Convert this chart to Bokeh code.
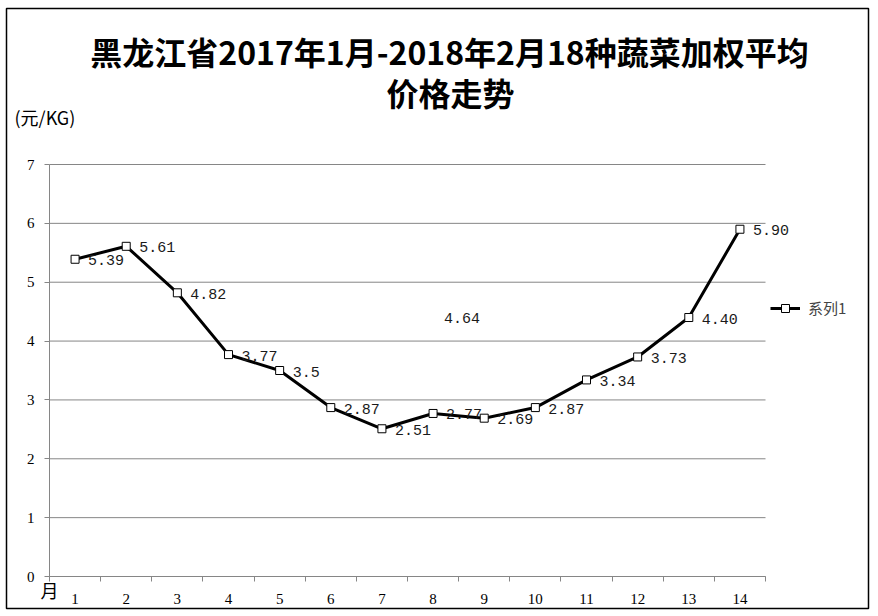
from bokeh.plotting import figure
from bokeh.models import FixedTicker, Legend, LegendItem, ColumnDataSource, Range1d, Label
from bokeh.core.properties import value
from bokeh.embed import file_html
from bokeh.resources import INLINE

months = list(range(1, 15))
tick_labels = [str(m) for m in months]
prices = [5.39, 5.61, 4.82, 3.77, 3.5, 2.87, 2.51, 2.77, 2.69, 2.87, 3.34, 3.73, 4.40, 5.90]
price_labels = ["5.39", "5.61", "4.82", "3.77", "3.5", "2.87", "2.51", "2.77", "2.69", "2.87",
                "3.34", "3.73", "4.40", "5.90"]
stray_x = [8]
stray_y = [4.35]
stray_text = ["4.64"]
y_ticks = list(range(0, 8))
title_lines = ["黑龙江省2017年1月-2018年2月18种蔬菜加权平均", "价格走势"]
unit_text = "(元/KG)"
x_unit_text = "月"
series_name = "系列1"

GRAY = "#868686"

# pixel geometry of the chart box (frame = whole bordered box)
FX0, FY0, FW, FH = 6, 8, 862, 600
AX_L, AX_R, AX_T, AX_B = 49, 765, 164, 576   # plot area in page pixels
x_lo, x_hi = months[0] - 0.5, months[-1] + 0.5
y_lo, y_hi = y_ticks[0], y_ticks[-1]
xs = (AX_R - AX_L) / (x_hi - x_lo)
ys = (AX_B - AX_T) / (y_hi - y_lo)
x_range = Range1d(x_lo - (AX_L - FX0) / xs, x_hi + (FX0 + FW - AX_R) / xs)
y_range = Range1d(y_lo - (FY0 + FH - AX_B) / ys, y_hi + (AX_T - FY0) / ys)

p = figure(width=FX0 + FW + 2, height=FY0 + FH + 2, x_range=x_range, y_range=y_range,
           output_backend="svg", toolbar_location=None,
           min_border_left=FX0, min_border_right=2, min_border_top=FY0, min_border_bottom=2)
p.outline_line_color = "black"
p.outline_line_width = 1.5
p.background_fill_color = "white"
p.border_fill_color = "white"

p.xgrid.grid_line_color = None
p.ygrid.grid_line_color = None
p.segment(x0=[x_lo] * len(y_ticks), x1=[x_hi] * len(y_ticks), y0=y_ticks, y1=y_ticks,
          line_color=GRAY, line_width=1)

p.xaxis.fixed_location = y_lo
p.xaxis.bounds = (x_lo, x_hi)
p.xaxis.ticker = FixedTicker(ticks=months, minor_ticks=[m - 0.5 for m in months] + [x_hi])
p.xaxis.major_label_overrides = {m: t for m, t in zip(months, tick_labels)}
p.xaxis.axis_line_color = GRAY
p.xaxis.major_tick_line_color = None
p.xaxis.major_tick_out = 0
p.xaxis.major_tick_in = 0
p.xaxis.minor_tick_line_color = GRAY
p.xaxis.minor_tick_out = 5
p.xaxis.minor_tick_in = 0
p.xaxis.major_label_standoff = 12
p.xaxis.major_label_text_font = "Liberation Serif"
p.xaxis.major_label_text_font_size = "15px"
p.xaxis.major_label_text_color = "black"

p.yaxis.fixed_location = x_lo
p.yaxis.bounds = (y_lo, y_hi)
p.yaxis.ticker = FixedTicker(ticks=y_ticks)
p.yaxis.axis_line_color = GRAY
p.yaxis.major_tick_line_color = GRAY
p.yaxis.major_tick_out = 5
p.yaxis.major_tick_in = 0
p.yaxis.minor_tick_line_color = None
p.yaxis.major_label_standoff = 10
p.yaxis.major_label_text_font = "Liberation Serif"
p.yaxis.major_label_text_font_size = "15px"
p.yaxis.major_label_text_color = "black"

src = ColumnDataSource(dict(x=months, y=prices, lab=price_labels))
line_r = p.line("x", "y", source=src, line_color="black", line_width=3)
sc_r = p.scatter("x", "y", source=src, marker="square", size=8, fill_color="white",
                 line_color="black", line_width=1)
p.text("x", "y", text="lab", source=src, x_offset=13, y_offset=1,
       text_font=value("Liberation Mono"), text_font_size="15px", text_color="#1a1a1a",
       text_baseline="middle", text_align="left")
p.text(x=stray_x, y=stray_y, text=stray_text, x_offset=11, y_offset=-2,
       text_font=value("Liberation Mono"), text_font_size="15px", text_color="#1a1a1a",
       text_baseline="middle", text_align="left")

legend = Legend(items=[LegendItem(label=series_name, renderers=[line_r, sc_r])],
                location=(770 - FX0, FY0 + FH - 318), padding=0, margin=0,
                border_line_color=None, background_fill_alpha=0,
                glyph_width=30, glyph_height=20, label_standoff=8,
                label_text_font="Noto Sans CJK SC", label_text_font_size="15px")
p.add_layout(legend)

def sx(px):
    return px - FX0

def sy(py):
    return FY0 + FH - py

for txt, x, y, size, style, align in [
    (title_lines[0], sx(449), sy(50), "32px", "bold", "center"),
    (title_lines[1], sx(450), sy(91), "32px", "bold", "center"),
    (unit_text, sx(14), sy(116), "18px", "normal", "left"),
    (x_unit_text, sx(40), sy(589), "18px", "normal", "left"),
]:
    p.add_layout(Label(x=x, y=y, x_units="screen", y_units="screen", text=txt,
                       text_font="Noto Sans CJK SC", text_font_style=style,
                       text_font_size=size, text_align=align, text_baseline="middle",
                       text_color="black"))

open("out.html", "w").write(file_html(p, INLINE))
